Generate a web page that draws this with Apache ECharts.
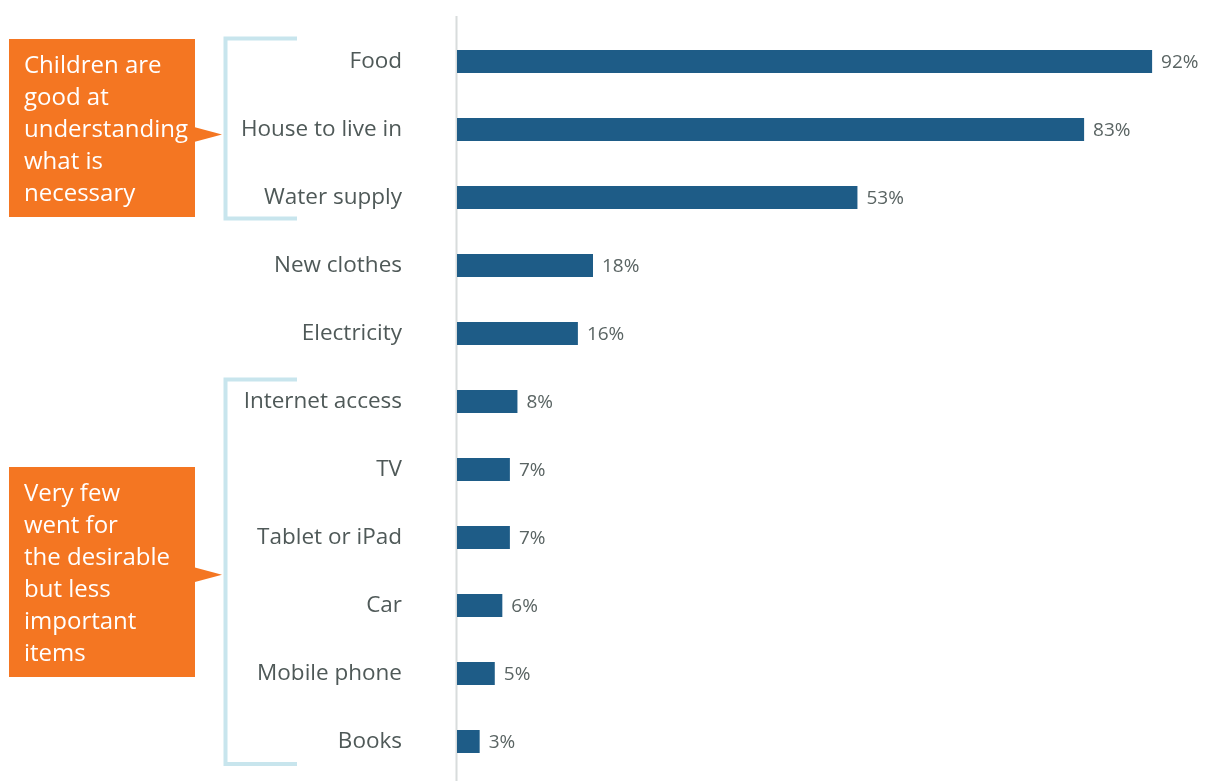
<!DOCTYPE html>
<html>
<head>
<meta charset="utf-8">
<script src="https://cdn.jsdelivr.net/npm/echarts@6/dist/echarts.min.js"></script>
<style>
  html, body { margin: 0; padding: 0; background: #ffffff; }
  #chart { width: 1205px; height: 781px; }
</style>
</head>
<body>
<div id="chart"></div>
<script>
// Items children picked as most important, share of respondents (%)
const categories = ['Food', 'House to live in', 'Water supply', 'New clothes', 'Electricity',
  'Internet access', 'TV', 'Tablet or iPad', 'Car', 'Mobile phone', 'Books'];
const shares = [92, 83, 53, 18, 16, 8, 7, 7, 6, 5, 3];

// Callout notes, each tied to a run of categories
const noteNecessary = 'Children are\ngood at\nunderstanding\nwhat is\nnecessary';
const noteDesirable = 'Very few\nwent for\nthe desirable\nbut less\nimportant\nitems';

const FONT = '"Open Sans", Lato, sans-serif';
const BAR = '#1e5c87';
const ORANGE = '#f47622';
const BRACKET = '#c8e5ed';

const chart = echarts.init(document.getElementById('chart'), null, { renderer: 'canvas' });

chart.setOption({
  animation: false,
  backgroundColor: '#ffffff',
  grid: { left: 457, top: 27.5, right: 0, height: 748 },
  xAxis: {
    type: 'value', min: 0, max: 99,
    show: false
  },
  yAxis: {
    type: 'category',
    data: categories,
    inverse: true,
    axisLine: { show: false },
    axisTick: { show: false },
    axisLabel: { margin: 55, color: '#4f5958', fontSize: 22.5, fontFamily: FONT,
      padding: [3, 0, 0, 0] }
  },
  series: [{
    type: 'bar',
    data: shares,
    barWidth: 23,
    itemStyle: { color: BAR },
    label: {
      show: true, position: 'right', distance: 9, offset: [0, 1.5],
      formatter: p => p.value + '%',
      color: '#5a6463', fontSize: 19, fontFamily: FONT
    }
  }]
});

// Annotations placed relative to the category bands
function yOf(name) { return chart.convertToPixel({ yAxisIndex: 0 }, name); }

function bracket(topY, botY) {
  return {
    type: 'polyline',
    shape: { points: [[297, topY], [225.5, topY], [225.5, botY], [297, botY]] },
    style: { stroke: BRACKET, lineWidth: 4, fill: null },
    z: 10
  };
}
function callout(boxTop, boxBottom, tipY, text) {
  return [
    { type: 'rect', shape: { x: 9, y: boxTop, width: 186, height: boxBottom - boxTop },
      style: { fill: ORANGE }, z: 10 },
    { type: 'polygon', shape: { points: [[194, tipY - 7.5], [222, tipY], [194, tipY + 7.5]] },
      style: { fill: ORANGE }, z: 10 },
    { type: 'text', x: 24, y: boxTop + 11, z: 11,
      style: { text: text, fill: '#ffffff', font: '24px ' + FONT, lineHeight: 32,
        align: 'left', verticalAlign: 'top' } }
  ];
}

const top1 = yOf('Food') - 23, bot1 = yOf('Water supply') + 21;
const top2 = yOf('Internet access') - 22, bot2 = yOf('Books') + 22.5;

chart.setOption({
  graphic: [
    { type: 'line', shape: { x1: 456.5, y1: 16, x2: 456.5, y2: 781 },
      style: { stroke: '#d8dcdc', lineWidth: 2 }, z: 1 },
    bracket(top1, bot1),
    bracket(top2, bot2),
    ...callout(39, 217, (top1 + bot1) / 2 + 6, noteNecessary),
    ...callout(467, 677, (top2 + bot2) / 2 + 3, noteDesirable)
  ]
});
</script>
</body>
</html>
